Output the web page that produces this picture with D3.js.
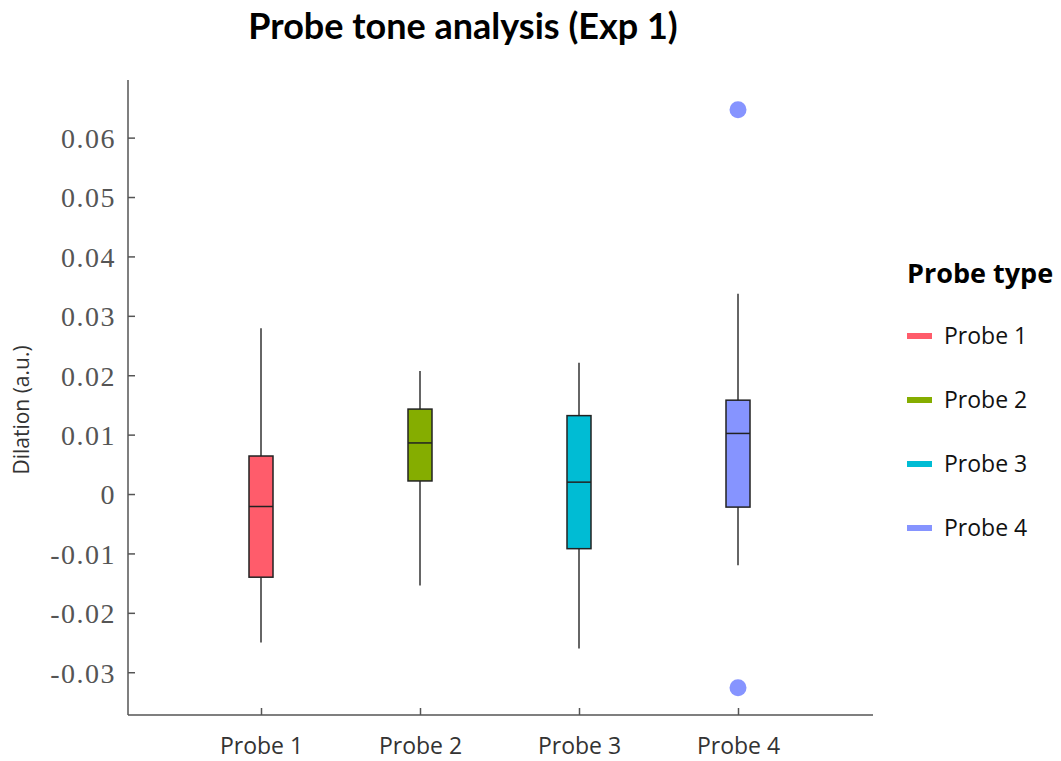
<!DOCTYPE html>
<meta charset="utf-8">
<head>
  <title>Probe tone analysis (Exp 1)</title>
</head>
<style>
  body { margin: 0; background: #fff; }
  .title { font: bold 36px Lato, "Open Sans", sans-serif; fill: #000; text-anchor: middle; }
  .yaxis text { font: 28px "Liberation Serif", serif; fill: #555; letter-spacing: 1.5px; }
  .xaxis text { font: 23px "Open Sans", sans-serif; fill: #333; }
  .axis path, .axis line { stroke: #555; stroke-width: 1.5px; }
  .ylabel { font: 21px "Open Sans", sans-serif; fill: #333; text-anchor: middle; }
  .legendTitle { font: bold 27px "Open Sans", sans-serif; fill: #000; }
  .legendText { font: 23px "Open Sans", sans-serif; fill: #111; }
  .whisker { stroke: #333; stroke-width: 1.5px; }
  .box { stroke: #222; stroke-width: 1.5px; }
</style>
<body>
<script src="https://d3js.org/d3.v7.min.js"></script>
<script>
// data
var probes = ["Probe 1", "Probe 2", "Probe 3", "Probe 4"];
var colors = ["#ff5c6b", "#85ad00", "#00bcd4", "#8694ff"];
var whiskerLow = [-0.0250, -0.0154, -0.0260, -0.0120];
var q1 = [-0.0140, 0.0022, -0.0092, -0.0022];
var median = [-0.0021, 0.0086, 0.0020, 0.0102];
var q3 = [0.0064, 0.0143, 0.0132, 0.0158];
var whiskerHigh = [0.0279, 0.0207, 0.0221, 0.0337];
var outliers = [{probe: "Probe 4", value: 0.0647}, {probe: "Probe 4", value: -0.0326}];
var yTicks = [-0.03, -0.02, -0.01, 0, 0.01, 0.02, 0.03, 0.04, 0.05, 0.06];

var width = 1061, height = 761;
var plot = {left: 128, right: 873, top: 80, bottom: 715};

var svg = d3.select("body").append("svg")
    .attr("width", width)
    .attr("height", height);

var y = d3.scaleLinear()
    .domain([-0.0372, 0.0697])
    .range([plot.bottom, plot.top]);

var x = d3.scalePoint()
    .domain(probes)
    .range([261, 738]);

var color = d3.scaleOrdinal().domain(probes).range(colors);

// title
svg.append("text")
    .attr("class", "title")
    .attr("x", 463)
    .attr("y", 39)
    .text("Probe tone analysis (Exp 1)");

// y axis (ticks pointing inward)
var yAxis = d3.axisRight(y)
    .tickValues(yTicks)
    .tickSize(7)
    .tickFormat(function(d) { return d === 0 ? "0" : d3.format(".2f")(d).replace("−", "-"); });

var gy = svg.append("g")
    .attr("class", "axis yaxis")
    .attr("transform", "translate(" + plot.left + ",0)")
    .call(yAxis);
gy.select(".domain").attr("d", "M0," + plot.top + "V" + plot.bottom);
gy.selectAll("text")
    .attr("x", -12)
    .attr("text-anchor", "end")
    .attr("dy", "0.35em");

// x axis (ticks pointing inward)
var xAxis = d3.axisTop(x).tickSize(7);
var gx = svg.append("g")
    .attr("class", "axis xaxis")
    .attr("transform", "translate(0," + plot.bottom + ")")
    .call(xAxis);
gx.select(".domain").attr("d", "M" + plot.left + ",0H" + plot.right);
gx.selectAll("text")
    .attr("y", 31)
    .attr("dy", "0.35em");

// y label
svg.append("text")
    .attr("class", "ylabel")
    .attr("transform", "translate(29," + 410 + ") rotate(-90)")
    .text("Dilation (a.u.)");

// boxes
var boxW = 24;
var stats = probes.map(function(p, i) {
  return {probe: p, lo: whiskerLow[i], q1: q1[i], med: median[i], q3: q3[i], hi: whiskerHigh[i]};
});

var g = svg.selectAll(".boxg")
    .data(stats)
    .enter().append("g")
    .attr("class", "boxg");

g.append("line")
    .attr("class", "whisker")
    .attr("x1", function(d) { return x(d.probe); })
    .attr("x2", function(d) { return x(d.probe); })
    .attr("y1", function(d) { return y(d.hi); })
    .attr("y2", function(d) { return y(d.q3); });

g.append("line")
    .attr("class", "whisker")
    .attr("x1", function(d) { return x(d.probe); })
    .attr("x2", function(d) { return x(d.probe); })
    .attr("y1", function(d) { return y(d.q1); })
    .attr("y2", function(d) { return y(d.lo); });

g.append("rect")
    .attr("class", "box")
    .attr("x", function(d) { return x(d.probe) - boxW / 2; })
    .attr("y", function(d) { return y(d.q3); })
    .attr("width", boxW)
    .attr("height", function(d) { return y(d.q1) - y(d.q3); })
    .attr("fill", function(d) { return color(d.probe); });

g.append("line")
    .attr("class", "box")
    .attr("x1", function(d) { return x(d.probe) - boxW / 2; })
    .attr("x2", function(d) { return x(d.probe) + boxW / 2; })
    .attr("y1", function(d) { return y(d.med); })
    .attr("y2", function(d) { return y(d.med); });

// outliers
svg.selectAll(".outlier")
    .data(outliers)
    .enter().append("circle")
    .attr("class", "outlier")
    .attr("cx", function(d) { return x(d.probe); })
    .attr("cy", function(d) { return y(d.value); })
    .attr("r", 8.5)
    .attr("fill", function(d) { return color(d.probe); });

// legend
var legend = svg.append("g").attr("transform", "translate(907,0)");
legend.append("text")
    .attr("class", "legendTitle")
    .attr("x", 0)
    .attr("y", 274)
    .attr("dy", "0.35em")
    .text("Probe type");

var item = legend.selectAll(".item")
    .data(probes)
    .enter().append("g")
    .attr("class", "item")
    .attr("transform", function(d, i) { return "translate(0," + (336 + i * 64) + ")"; });

item.append("rect")
    .attr("x", 0)
    .attr("y", -3)
    .attr("width", 25)
    .attr("height", 6)
    .attr("fill", function(d) { return color(d); });

item.append("text")
    .attr("class", "legendText")
    .attr("x", 37)
    .attr("dy", "0.35em")
    .text(function(d) { return d; });
</script>
</body>
